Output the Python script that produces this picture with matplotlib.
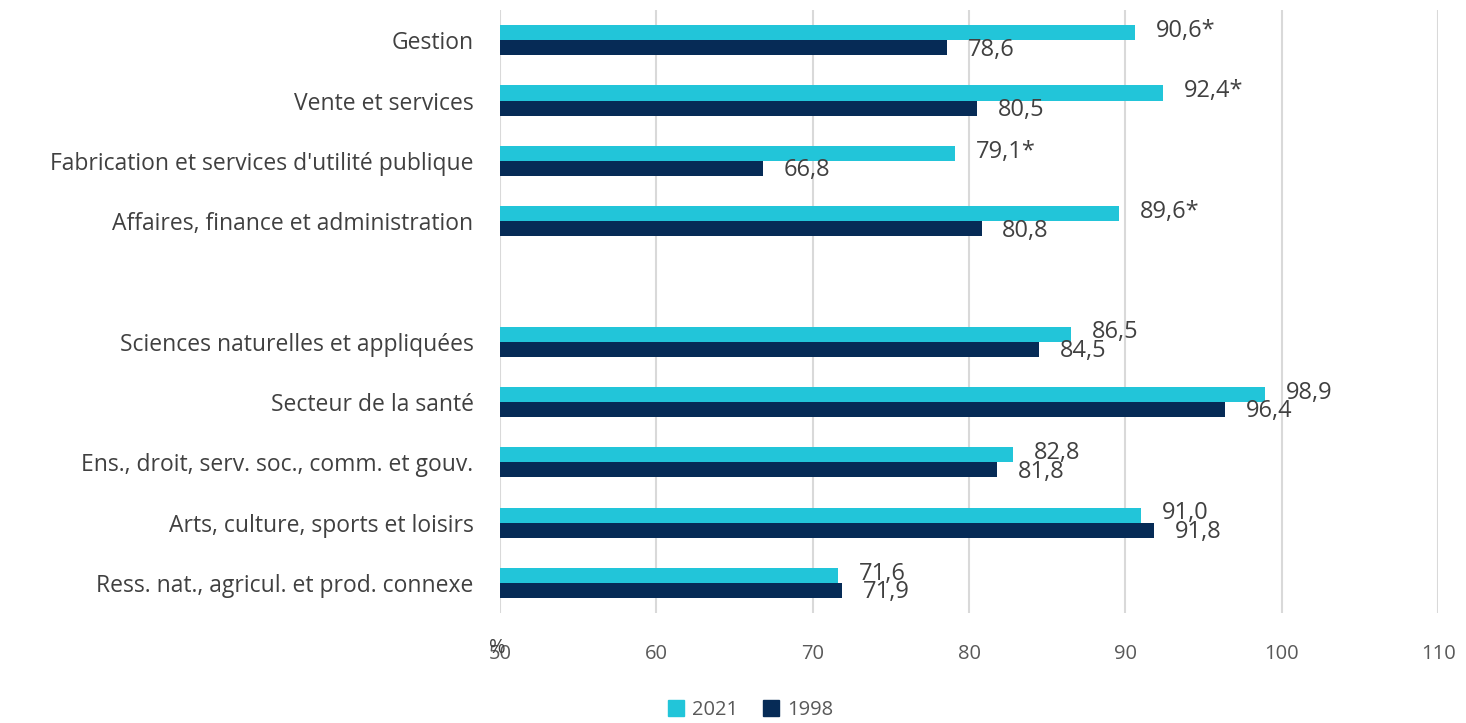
import matplotlib
matplotlib.use("Agg")
import matplotlib.pyplot as plt
import numpy as np
from matplotlib.patches import Patch

categories = ["Gestion", "Vente et services", "Fabrication et services d'utilité publique",
              "Affaires, finance et administration", "",
              "Sciences naturelles et appliquées", "Secteur de la santé",
              "Ens., droit, serv. soc., comm. et gouv.", "Arts, culture, sports et loisirs",
              "Ress. nat., agricul. et prod. connexe"]
values_2021 = [90.6, 92.4, 79.1, 89.6, None, 86.5, 98.9, 82.8, 91.0, 71.6]
values_1998 = [78.6, 80.5, 66.8, 80.8, None, 84.5, 96.4, 81.8, 91.8, 71.9]
star_2021 = ["*", "*", "*", "*", "", "", "", "", "", ""]
xticks = [50, 60, 70, 80, 90, 100, 110]

c2021 = "#22C5D9"
c1998 = "#062B56"
plt.rcParams['font.family'] = ['Open Sans', 'DejaVu Sans']

fig = plt.figure(figsize=(14.66, 7.23), dpi=100)
ax = fig.add_axes([0.341, 0.152, 0.640, 0.834])

n = len(categories)
y = np.arange(n)
h = 0.25
for i in range(n):
    if values_2021[i] is None:
        continue
    ax.barh(y[i] - h/2, values_2021[i] - 50, left=50, height=h, color=c2021, zorder=3)
    ax.barh(y[i] + h/2, values_1998[i] - 50, left=50, height=h, color=c1998, zorder=3)
    ax.annotate(f"{values_2021[i]:.1f}".replace(".", ",") + star_2021[i],
                (values_2021[i], y[i] - h/2 - 0.03), xytext=(15, 0), textcoords="offset points",
                ha="left", va="center", fontsize=17, color="#404040", zorder=4)
    ax.annotate(f"{values_1998[i]:.1f}".replace(".", ","),
                (values_1998[i], y[i] + h/2 + 0.03), xytext=(15, 0), textcoords="offset points",
                ha="left", va="center", fontsize=17, color="#404040", zorder=4)

ax.set_xlim(50, 110)
ax.set_ylim(n - 0.5, -0.5)
ax.set_xticks(xticks)
ax.set_xticklabels([str(t) for t in xticks], fontsize=14.5, color="#595959")
ax.set_yticks(y)
ax.set_yticklabels(categories, fontsize=16.5, color="#404040")
ax.tick_params(axis="x", length=0, pad=22)
ax.tick_params(axis="y", length=0, pad=19)
for s in ax.spines.values():
    s.set_visible(False)
ax.grid(axis="x", color="#D9D9D9", linewidth=1.5, zorder=0)
ax.set_axisbelow(True)

fig.text(0.339, 1 - 648/723, "%", ha="center", va="center", fontsize=14.5, color="#404040")

handles = [Patch(color=c2021, label="2021"), Patch(color=c1998, label="1998")]
leg = fig.legend(handles=handles, loc="center", bbox_to_anchor=(0.512, 1 - 710/723),
                 ncol=2, frameon=False, fontsize=14.5, handlelength=0.8, handleheight=0.8,
                 handletextpad=0.4, columnspacing=1.2)
for t in leg.get_texts():
    t.set_color("#595959")

fig.savefig("out.png", dpi=100)
